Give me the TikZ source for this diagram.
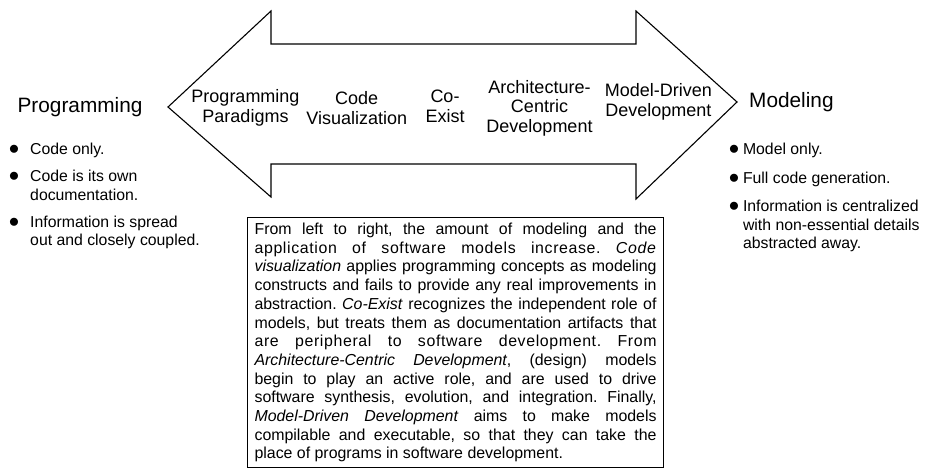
\documentclass[tikz,border=0pt]{standalone}
\usepackage{fontspec}
\setmainfont{Liberation Sans}
\usetikzlibrary{positioning}

% one justified line of the summary text
\newcommand\fullline[1]{\makebox[402pt][s]{#1}}
% same, with the letters spread as well
\newcommand\spreadline[1]{\makebox[402pt][s]{\addfontfeatures{LetterSpace=4}#1}}
\newcommand\dotmark{\scalebox{1.45}{$\bullet$}}

\begin{document}
\begin{tikzpicture}[
    x=1pt, y=-1pt,
    bigarrow/.style={draw=black, line width=1.1pt, line join=miter},
    stage/.style={font=\fontsize{18}{19.8}\selectfont, align=center, inner sep=0pt},
    heading/.style={font=\fontsize{20.8}{25}\selectfont, inner sep=0pt},
    points/.style={font=\fontsize{15.8}{18.5}\selectfont, inner sep=0pt},
    descbox/.style={
      draw, line width=1.1pt,
      font=\fontsize{15.9}{18.7}\selectfont\frenchspacing, align=left,
      inner xsep=7pt, inner ysep=5.5pt
    }
  ]
  \useasboundingbox (0,0) rectangle (926,470);

  % the double-headed arrow
  \draw[bigarrow] (168,107) -- (271,11) -- (271,44) -- (636,44) -- (636,11)
    -- (737,102) -- (636,199) -- (636,164) -- (271,164) -- (271,197) -- cycle;

  % stages along the arrow
  \node[stage] (paradigms) at (245.5,108) {Programming\\Paradigms};
  \node[stage] (codevis) at (356.7,108) {Code\\Visualization};
  \node[stage] (coexist) at (445,106) {Co-\\Exist};
  \node[stage] (archcentric) at (539.5,108.3) {Architecture-\\Centric\\Development};
  \node[stage] (mdd) at (658.4,101.5) {Model-Driven\\Development};

  % the two ends
  \node[heading, anchor=base] (programming) at (80,113) {Programming};
  \node[heading, anchor=base west] (modeling) at (749,108) {Modeling};

  \node[points, anchor=base west] (proglist) at (8.6,155) {%
    \begin{tabular}[t]{@{}l@{\hspace{11pt}}l@{}}
      \dotmark & Code only.\\[8.5pt]
      \dotmark & Code is its own\\
               & documentation.\\[8.5pt]
      \dotmark & Information is spread\\
               & out and closely coupled.
    \end{tabular}};

  \node[points, anchor=base west] (modlist) at (728.6,155) {%
    \begin{tabular}[t]{@{}l@{\hspace{3.8pt}}l@{}}
      \dotmark & Model only.\\[10pt]
      \dotmark & Full code generation.\\[10pt]
      \dotmark & Information is centralized\\
               & with non-essential details\\
               & abstracted away.
    \end{tabular}};

  % summary below the arrow
  \node[descbox, anchor=north west] (summary) at (247,217) {%
    \fullline{From left to right, the amount of modeling and the}\\
    \spreadline{application of software models increase. \textit{Code}}\\
    \fullline{\textit{visualization} applies programming concepts as modeling}\\
    \fullline{constructs and fails to provide any real improvements in}\\
    \fullline{abstraction. \textit{Co-Exist} recognizes the independent role of}\\
    \fullline{models, but treats them as documentation artifacts that}\\
    \spreadline{are peripheral to software development. From}\\
    \fullline{\textit{Architecture-Centric Development}, (design) models}\\
    \fullline{begin to play an active role, and are used to drive}\\
    \fullline{software synthesis, evolution, and integration. Finally,}\\
    \fullline{\textit{Model-Driven Development} aims to make models}\\
    \fullline{compilable and executable, so that they can take the}\\
    place of programs in software development.};
\end{tikzpicture}
\end{document}
